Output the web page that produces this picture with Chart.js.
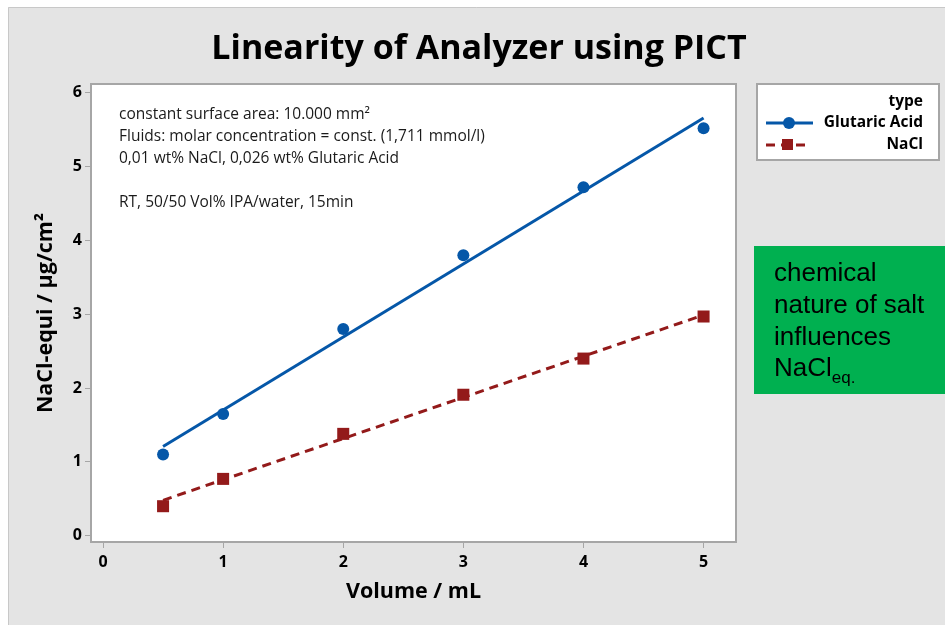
<!DOCTYPE html>
<html>
<head>
<meta charset="utf-8">
<title>Linearity of Analyzer using PICT</title>
<script src="https://cdn.jsdelivr.net/npm/chart.js@4.4.1/dist/chart.umd.min.js"></script>
<style>
    body { margin: 0; background: #ffffff; }
    #wrap { width: 945px; height: 625px; position: relative; }
</style>
</head>
<body>
<div id="wrap"><canvas id="linearityChart" width="945" height="625"></canvas></div>
<script>
// Chart data
const volumes = [0.5, 1, 2, 3, 4, 5];
const glutaricAcid = [1.1, 1.65, 2.8, 3.8, 4.72, 5.52];
const naclValues = [0.4, 0.77, 1.38, 1.91, 2.4, 2.97];

// fitted lines, end points
const fitVolumes = [0.5, 5];
const glutaricFit = [1.21, 5.66];
const naclFit = [0.48, 2.99];

const xTicks = [0, 1, 2, 3, 4, 5];
const yTicks = [0, 1, 2, 3, 4, 5, 6];

const chartTitle = 'Linearity of Analyzer using PICT';
const xTitle = 'Volume / mL';
const yTitle = 'NaCl-equi / µg/cm²';
const noteLines = [
    'constant surface area: 10.000 mm²',
    'Fluids: molar concentration = const. (1,711 mmol/l)',
    '0,01 wt% NaCl, 0,026 wt% Glutaric Acid',
    '',
    'RT, 50/50 Vol% IPA/water, 15min'
];
const legendTitle = 'type';
const seriesNames = ['Glutaric Acid', 'NaCl'];
const boxLines = ['chemical', 'nature of salt', 'influences'];

const blue = '#0557a8';
const red = '#931a1a';
const uiFont = '"Open Sans", "DejaVu Sans", sans-serif';

const toPoints = (xs, ys) => xs.map((x, i) => ({ x: x, y: ys[i] }));

// Page background, plot frame, texts, legend and green box
const decorPlugin = {
    id: 'decor',
    beforeDraw(chart) {
        const ctx = chart.ctx;
        const area = chart.chartArea;
        ctx.save();
        ctx.fillStyle = '#ffffff';
        ctx.fillRect(0, 0, chart.width, chart.height);
        ctx.fillStyle = '#e4e4e4';
        ctx.fillRect(8, 7, chart.width - 8, chart.height - 7);
        ctx.strokeStyle = '#c8c8c8';
        ctx.lineWidth = 1;
        ctx.beginPath();
        ctx.moveTo(8.5, chart.height);
        ctx.lineTo(8.5, 7.5);
        ctx.lineTo(chart.width, 7.5);
        ctx.stroke();
        ctx.fillStyle = '#ffffff';
        ctx.fillRect(area.left, area.top, area.right - area.left, area.bottom - area.top);
        ctx.restore();
    },
    afterDraw(chart) {
        const ctx = chart.ctx;
        const area = chart.chartArea;
        ctx.save();

        // frame
        ctx.strokeStyle = '#a6a6a6';
        ctx.lineWidth = 2;
        ctx.strokeRect(area.left, area.top, area.right - area.left, area.bottom - area.top);

        // title
        ctx.fillStyle = '#000000';
        ctx.font = 'bold 34px ' + uiFont;
        ctx.textAlign = 'center';
        ctx.textBaseline = 'middle';
        ctx.fillText(chartTitle, 479, 49);

        // notes inside the plot
        ctx.font = '15.5px ' + uiFont;
        ctx.textAlign = 'left';
        ctx.fillStyle = '#1a1a1a';
        noteLines.forEach((line, i) => {
            ctx.fillText(line, 119, 115 + i * 22);
        });

        // legend
        ctx.fillStyle = '#ffffff';
        ctx.fillRect(757, 84, 182, 76);
        ctx.strokeStyle = '#a6a6a6';
        ctx.lineWidth = 2;
        ctx.strokeRect(757, 84, 182, 76);
        ctx.fillStyle = '#000000';
        ctx.font = 'bold 15.5px ' + uiFont;
        ctx.textAlign = 'right';
        ctx.fillText(legendTitle, 923, 102);
        ctx.fillText(seriesNames[0], 923, 123);
        ctx.fillText(seriesNames[1], 923, 145);

        ctx.strokeStyle = blue;
        ctx.lineWidth = 3;
        ctx.beginPath();
        ctx.moveTo(766, 123);
        ctx.lineTo(813, 123);
        ctx.stroke();
        ctx.fillStyle = blue;
        ctx.beginPath();
        ctx.arc(789, 123, 6, 0, Math.PI * 2);
        ctx.fill();

        ctx.strokeStyle = red;
        ctx.setLineDash([9, 6]);
        ctx.beginPath();
        ctx.moveTo(766, 145);
        ctx.lineTo(810, 145);
        ctx.stroke();
        ctx.setLineDash([]);
        ctx.fillStyle = red;
        ctx.fillRect(782, 139, 11, 11);

        // green note box
        ctx.fillStyle = '#00b050';
        ctx.fillRect(754, 246, 191, 148);
        ctx.fillStyle = '#000000';
        ctx.textAlign = 'left';
        ctx.font = '26px "Liberation Sans", Arial, sans-serif';
        boxLines.forEach((line, i) => {
            ctx.fillText(line, 774, 274 + i * 32);
        });
        ctx.fillText('NaCl', 774, 369);
        const w = ctx.measureText('NaCl').width;
        ctx.font = '17px "Liberation Sans", Arial, sans-serif';
        ctx.fillText('eq.', 774 + w, 378);

        ctx.restore();
    }
};

new Chart(document.getElementById('linearityChart'), {
    type: 'scatter',
    data: {
        datasets: [
            {
                label: seriesNames[0],
                data: toPoints(volumes, glutaricAcid),
                pointStyle: 'circle',
                pointRadius: 6,
                pointHoverRadius: 6,
                backgroundColor: blue,
                borderColor: blue,
                borderWidth: 0,
                showLine: false
            },
            {
                label: seriesNames[0] + ' fit',
                data: toPoints(fitVolumes, glutaricFit),
                showLine: true,
                pointRadius: 0,
                borderColor: blue,
                borderWidth: 3
            },
            {
                label: seriesNames[1],
                data: toPoints(volumes, naclValues),
                pointStyle: 'rect',
                pointRadius: 8.5,
                pointHoverRadius: 8.5,
                backgroundColor: red,
                borderColor: red,
                borderWidth: 0,
                showLine: false
            },
            {
                label: seriesNames[1] + ' fit',
                data: toPoints(fitVolumes, naclFit),
                showLine: true,
                pointRadius: 0,
                borderColor: red,
                borderWidth: 3,
                borderDash: [9, 6]
            }
        ]
    },
    options: {
        responsive: false,
        animation: false,
        devicePixelRatio: 1,
        layout: { padding: { left: 0, top: 84, right: 209, bottom: 0 } },
        plugins: {
            legend: { display: false },
            title: { display: false },
            tooltip: { enabled: false }
        },
        scales: {
            x: {
                type: 'linear',
                min: -0.1,
                max: 5.27,
                afterBuildTicks: (scale) => { scale.ticks = xTicks.map(v => ({ value: v })); },
                afterFit: (scale) => { scale.height = 83; },
                grid: { drawOnChartArea: false, drawTicks: true, tickLength: 6, color: '#a6a6a6', lineWidth: 1 },
                border: { display: false },
                ticks: { color: '#000000', padding: 5, font: { family: uiFont, size: 16, weight: 'bold' } },
                title: {
                    display: true,
                    text: xTitle,
                    color: '#000000',
                    padding: { top: 6, bottom: 20 },
                    font: { family: uiFont, size: 21.5, weight: 'bold' }
                }
            },
            y: {
                type: 'linear',
                min: -0.085,
                max: 6.12,
                afterBuildTicks: (scale) => { scale.ticks = yTicks.map(v => ({ value: v })); },
                afterFit: (scale) => { scale.width = 91; },
                grid: { drawOnChartArea: false, drawTicks: true, tickLength: 6, color: '#a6a6a6', lineWidth: 1 },
                border: { display: false },
                ticks: { color: '#000000', padding: 3, font: { family: uiFont, size: 16, weight: 'bold' } },
                title: {
                    display: true,
                    text: yTitle,
                    color: '#000000',
                    padding: { top: 33, bottom: 4 },
                    font: { family: uiFont, size: 21.5, weight: 'bold' }
                }
            }
        }
    },
    plugins: [decorPlugin]
});
</script>
</body>
</html>
